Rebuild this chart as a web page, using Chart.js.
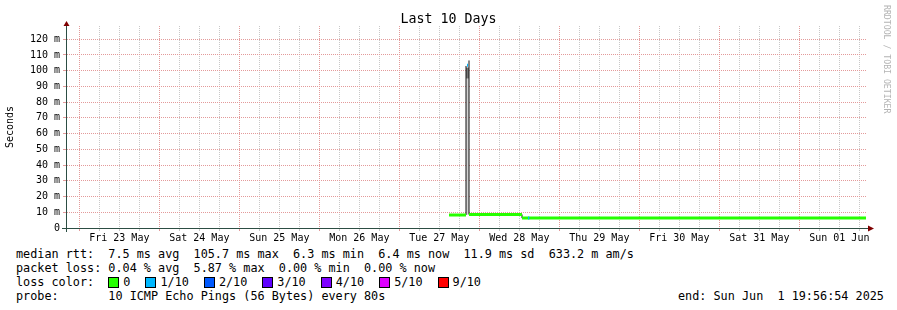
<!DOCTYPE html>
<html>
<head>
<meta charset="utf-8">
<title>Last 10 Days</title>
<script src="https://cdn.jsdelivr.net/npm/chart.js@4/dist/chart.umd.min.js"></script>
<style>
  html, body { margin: 0; padding: 0; background: #fff; }
  #wrap { position: relative; width: 897px; height: 310px; overflow: hidden;
          font-family: "DejaVu Sans Mono", monospace; color: #000; }
  #box { position: absolute; left: 0; top: 0; width: 897px; height: 245px; }
  .t { position: absolute; white-space: pre; }
  #title { left: 0; top: 11px; width: 897px; text-align: center; font-size: 13.3px; line-height: 16px; }
  .leg { left: 16px; font-size: 11.8px; line-height: 14px; }
  .sw { display: inline-block; width: 9px; height: 9px; border: 1px solid #000;
        vertical-align: -2px; margin-right: 4px; }
  .lab { margin-right: 15px; }
  #mark { left: 882px; top: 5px; font-size: 8.2px; color: #b4b4b4; writing-mode: vertical-rl; }
</style>
</head>
<body>
<div id="wrap">
  <div id="box"><canvas id="rtt"></canvas></div>
  <div class="t" id="title">Last 10 Days</div>
  <div class="t" id="mark">RRDTOOL / TOBI OETIKER</div>
  <div class="t leg" style="top:247px">median rtt:  7.5 ms avg  105.7 ms max  6.3 ms min  6.4 ms now  11.9 ms sd  633.2 m am/s</div>
  <div class="t leg" style="top:261px">packet loss: 0.04 % avg  5.87 % max  0.00 % min  0.00 % now</div>
  <div class="t leg" id="losses" style="top:275px">loss color:  </div>
  <div class="t leg" style="top:289px">probe:       10 ICMP Echo Pings (56 Bytes) every 80s</div>
  <div class="t leg" style="top:289px; left:678px">end: Sun Jun  1 19:56:54 2025</div>
</div>
<script>
// x values are hours counted from Thu 22 May 00:00
const dayLabels = ['Fri 23 May', 'Sat 24 May', 'Sun 25 May', 'Mon 26 May', 'Tue 27 May',
                   'Wed 28 May', 'Thu 29 May', 'Fri 30 May', 'Sat 31 May', 'Sun 01 Jun'];
const viewStart = 20.3;
const viewEnd = 260.3;
const yMax = 128.4;   // ms

// median rtt, 0/10 loss (green) segments
const okStart = [134.9, 140.9, 156.8];
const okEnd   = [140.0, 156.8, 260.0];
const okMs    = [8.3, 8.6, 6.3];

// median rtt, 1/10 loss segments
const lossStart = [140.3, 158.6];
const lossEnd   = [140.6, 159.0];
const lossMs    = [103.5, 6.3];

// smoke around the spike
const smokeStart = 140.0;
const smokeEnd = 140.9;
const smokeMin = 8.5;
const smokeMid = 95;
const smokeMax = 102;

// dark vertical edges where the line jumps
const edgeT    = [140.0, 140.9, 156.8];
const edgeLow  = [8.3, 8.6, 6.3];
const edgeHigh = [103, 106.5, 8.6];

// legend
const lossLabels = ['0', '1/10', '2/10', '3/10', '4/10', '5/10', '9/10'];
const lossColors = ['#26ff00', '#00b8ff', '#0059ff', '#5e00ff', '#7e00ff', '#dd00ff', '#ff0000'];

const majorGrid = '#e39a9a';
const minorGrid = '#c8c8c8';

const losses = document.getElementById('losses');
lossLabels.forEach((l, i) => {
  const sw = document.createElement('span');
  sw.className = 'sw';
  sw.style.background = lossColors[i];
  losses.appendChild(sw);
  const lab = document.createElement('span');
  lab.className = 'lab';
  lab.textContent = l;
  losses.appendChild(lab);
});

function segments(starts, ends, vals) {
  const pts = [];
  starts.forEach((s, i) => {
    pts.push({ x: s, y: vals[i] }, { x: ends[i], y: vals[i] }, { x: ends[i], y: null });
  });
  return pts;
}

function edges() {
  const pts = [];
  edgeT.forEach((t, i) => {
    pts.push({ x: t, y: edgeLow[i] }, { x: t, y: edgeHigh[i] }, { x: t, y: null });
  });
  return pts;
}

// axis lines and arrows like rrdtool draws them
const rrdAxes = {
  id: 'rrdAxes',
  afterDatasetsDraw(chart) {
    const { ctx, chartArea: a } = chart;
    const x0 = a.left - 0.5, y0 = a.bottom + 0.5;
    ctx.save();
    ctx.strokeStyle = '#2c4d43';
    ctx.lineWidth = 1;
    ctx.beginPath();
    ctx.moveTo(x0, a.top - 3); ctx.lineTo(x0, a.bottom + 4);
    ctx.moveTo(a.left - 5, y0); ctx.lineTo(a.right + 1, y0);
    ctx.stroke();
    ctx.fillStyle = '#7f0000';
    ctx.beginPath();
    ctx.moveTo(x0, a.top - 5); ctx.lineTo(x0 - 3, a.top); ctx.lineTo(x0 + 3, a.top);
    ctx.closePath(); ctx.fill();
    ctx.beginPath();
    ctx.moveTo(a.right + 7, y0); ctx.lineTo(a.right + 1, y0 - 3); ctx.lineTo(a.right + 1, y0 + 3);
    ctx.closePath(); ctx.fill();
    ctx.restore();
  }
};

const tickFont = { family: 'DejaVu Sans Mono', size: 10 };

new Chart(document.getElementById('rtt'), {
  type: 'line',
  data: {
    datasets: [
      { data: segments(lossStart, lossEnd, lossMs), borderColor: lossColors[1], borderWidth: 3,
        pointRadius: 0, spanGaps: false, fill: false },
      { data: segments(okStart, okEnd, okMs), borderColor: lossColors[0], borderWidth: 3,
        pointRadius: 0, spanGaps: false, fill: false },
      { data: edges(), borderColor: '#111', borderWidth: 1, pointRadius: 0, spanGaps: false, fill: false },
      { data: [{ x: smokeStart, y: smokeMax }, { x: smokeEnd, y: smokeMax }], borderWidth: 0,
        pointRadius: 0, backgroundColor: '#777', fill: { value: smokeMid } },
      { data: [{ x: smokeStart, y: smokeMid }, { x: smokeEnd, y: smokeMid }], borderWidth: 0,
        pointRadius: 0, backgroundColor: '#d4d4d4', fill: { value: smokeMin } }
    ]
  },
  options: {
    responsive: true,
    maintainAspectRatio: false,
    animation: false,
    layout: { padding: { left: 0, right: 30, top: 26, bottom: 0 } },
    plugins: { legend: { display: false }, tooltip: { enabled: false } },
    scales: {
      x: {
        type: 'linear',
        min: viewStart,
        max: viewEnd,
        afterBuildTicks: (s) => {
          const t = [];
          for (let h = 24; h < viewEnd; h += 6) t.push({ value: h });
          s.ticks = t;
        },
        afterFit: (s) => { s.height = 17; },
        grid: {
          // ticks run every 6 h from midnight, so every 4th one is a day boundary
          color: (c) => (c.index % 4 === 0 ? majorGrid : minorGrid),
          lineWidth: 1, tickLength: 3
        },
        border: { display: false, dash: [1, 1] },
        ticks: {
          autoSkip: false, maxRotation: 0, padding: 1, color: '#000', font: tickFont,
          callback: (v) => (v % 24 === 12 ? dayLabels[(v - 36) / 24] : '')
        }
      },
      y: {
        min: 0,
        max: yMax,
        afterBuildTicks: (s) => {
          const t = [];
          for (let v = 0; v <= 125; v += 5) t.push({ value: v });
          s.ticks = t;
        },
        afterFit: (s) => { s.width = 67; },
        grid: {
          color: (c) => (c.index % 2 === 0 ? majorGrid : minorGrid),
          lineWidth: 1, tickLength: 4
        },
        border: { display: false, dash: [1, 1] },
        ticks: {
          padding: 3, color: '#000', font: tickFont,
          callback: (v) => (v % 10 === 0 ? (v === 0 ? '0' : v + ' m') : '')
        },
        title: { display: true, text: 'Seconds', color: '#000',
                 font: { family: 'DejaVu Sans Mono', size: 10 }, padding: { top: 4, bottom: 0 } }
      }
    }
  },
  plugins: [rrdAxes]
});
</script>
</body>
</html>
